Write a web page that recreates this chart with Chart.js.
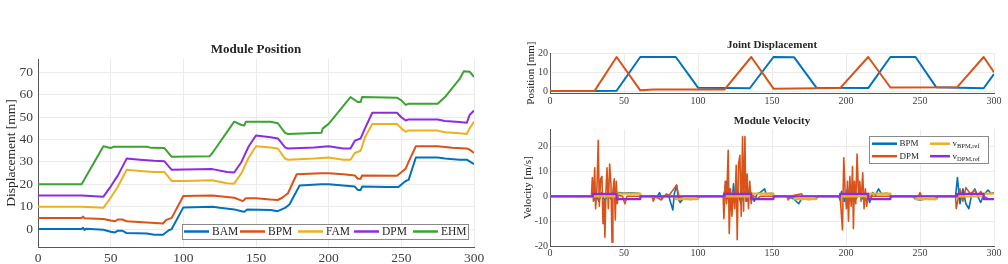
<!DOCTYPE html>
<html>
<head>
<meta charset="utf-8">
<script src="https://cdn.jsdelivr.net/npm/chart.js@4/dist/chart.umd.min.js"></script>
<style>
  body { margin: 0; background: #fff; width: 1008px; height: 264px; position: relative; overflow: hidden; }
  canvas { position: absolute; }
</style>
</head>
<body>
<canvas id="posChart" width="500" height="264" style="left:0;top:0"></canvas>
<canvas id="jointChart" width="508" height="112" style="left:500px;top:0"></canvas>
<canvas id="velChart" width="508" height="152" style="left:500px;top:112px"></canvas>
<script>
// ---- tick labels ----
var timeTicks = [0, 50, 100, 150, 200, 250, 300];
var posTicks = [0, 10, 20, 30, 40, 50, 60, 70];
var jointTicks = [0, 10, 20];
var velTicks = [-20, -10, 0, 10, 20];

// ---- Module Position (mm) ----
var bamT = [0, 30, 31, 32, 33, 45, 50, 53, 55, 58, 61, 75, 80, 86, 90, 92, 100, 120, 125, 135, 140, 142, 144, 160, 165, 170, 173, 180, 195, 200, 210, 218, 220, 222, 223, 240, 248, 253, 255, 260, 275, 280, 290, 295, 300];
var bamY = [0, 0, 0.6, -0.4, 0.2, -0.3, -1.2, -1.5, -0.7, -0.7, -1.8, -2, -2.5, -2.5, -0.5, 0, 9.7, 10, 9.5, 8.8, 8, 7.7, 8.8, 8.5, 8, 9.5, 11, 19.5, 20, 20, 19.5, 19, 17.5, 17.5, 19, 18.8, 18.8, 21.5, 22, 32, 32, 31.5, 31, 31, 29];

var bpmT = [0, 30, 31, 32, 45, 50, 53, 55, 58, 61, 75, 86, 88, 92, 100, 120, 135, 141, 143, 150, 160, 165, 168, 172, 178, 195, 200, 210, 218, 220, 222, 223, 247, 253, 255, 260, 275, 285, 295, 297, 300];
var bpmY = [5, 5, 5.6, 4.8, 4.5, 3.8, 3.5, 4.3, 4.3, 3.5, 3, 2.5, 4, 5, 14.8, 15, 14, 12.5, 13.8, 13.8, 13.2, 13, 14, 16, 24.5, 25, 25, 24.5, 24, 22.5, 22.5, 24, 23.8, 27, 30, 37, 37, 36.3, 36, 35.5, 34];

var famT = [0, 30, 45, 50, 55, 61, 70, 80, 87, 92, 100, 120, 130, 135, 140, 145, 150, 160, 165, 170, 172, 190, 200, 210, 215, 218, 222, 225, 230, 247, 250, 253, 255, 275, 280, 290, 295, 297, 300];
var famY = [10, 10, 9.5, 14, 19, 26.5, 26, 25.5, 25.5, 21.5, 21.5, 21.8, 20.5, 20.3, 25, 32, 37, 36.5, 36, 31.5, 31, 31.5, 32, 31, 31, 34, 35, 41, 47, 47, 45, 43.5, 44, 44, 43.3, 42.8, 42.5, 45, 48];

var dpmT = [0, 30, 45, 50, 55, 61, 70, 80, 87, 92, 120, 130, 135, 140, 145, 150, 160, 165, 170, 172, 190, 200, 210, 215, 218, 222, 225, 230, 247, 250, 253, 255, 275, 280, 290, 295, 297, 300];
var dpmY = [15, 15, 14.5, 19, 24, 31.5, 31, 30.5, 30.3, 26.5, 26.8, 25.5, 25.3, 30, 37, 41.8, 41, 40.5, 36.5, 36, 36.5, 37, 36, 36, 39.5, 40.5, 45, 52, 52, 50, 48.5, 49, 49, 48.3, 47.8, 47.5, 51, 53];

var ehmT = [0, 30, 45, 50, 52, 75, 78, 87, 92, 118, 120, 135, 140, 142, 143, 160, 165, 170, 172, 195, 196, 200, 215, 220, 222, 223, 247, 250, 253, 255, 275, 280, 290, 293, 297, 300];
var ehmY = [20, 20, 37, 36.2, 36.8, 36.8, 36.3, 36.2, 32.3, 32.5, 34, 48, 46.5, 46.3, 48, 48, 47.3, 43, 42.5, 43, 45, 47, 59, 56.8, 56.8, 59, 58.7, 57.5, 55.5, 56, 56, 59, 67, 70.5, 70.3, 68];

// ---- Joint Displacement (mm) ----
var jointBpmT = [0, 30, 45, 61, 85, 100, 118, 135, 151, 165, 180, 215, 230, 247, 261, 293, 300];
var jointBpmY = [0, 0.1, 0.2, 18, 18, 1.8, 1.7, 1.5, 18, 17.8, 1.8, 1.6, 18, 18, 2, 1.5, 9];
var jointDpmT = [0, 30, 45, 61, 70, 118, 136, 151, 196, 215, 230, 275, 293, 300];
var jointDpmY = [0, 0, 18, 0.4, 0.8, 0.9, 18, 1.3, 1.6, 18, 1.9, 2, 18, 10];

// ---- Module Velocity ----
var velBpmT = [0, 28, 29, 30, 31, 33, 35, 37, 39, 41, 43, 45, 46, 50, 55, 60, 61, 62, 70, 72, 74, 75.5, 77, 80, 81, 83, 84, 85.5, 87, 88, 90, 95, 100, 101, 117, 118, 119, 120, 121, 123, 124, 125, 127, 129, 131, 133, 135, 136, 138, 140, 142, 145, 146, 150, 151, 160, 161, 163, 165, 168, 170, 175, 180, 181, 195, 196, 197, 199, 201, 203, 205, 207, 209, 211, 213, 215, 216, 218, 220, 222, 224, 228, 230, 231, 245, 247, 250, 255, 261, 262, 274, 275.3, 277, 279, 281, 283, 285, 287, 289, 291, 293, 296, 298, 300];
var velBpmY = [0, 0, 2, -1.5, 1, -2, 1.5, -2, 1, -1, 1.5, 0.5, 1.5, 1.3, 1.4, 1.2, 0.5, 0, 0, -0.5, 1.5, -1, 0, 0.5, -1.5, -5.5, 1, 4.5, -1.5, -2.5, -1, -1.3, -1, 0, 0, 2, 6, -1, 3, -3, 5, -2, 2, -3, 2, -2, 1, 1.5, -2, 1, 1.5, 3, 1, 1.2, 0, 0, -1, -0.5, -1.2, -3, -1, -1.3, -1, 0, 0, -1.5, 2, -2, 3, -2, 2, -1, 2, -1, 1, 0.5, -2.5, 1.5, 0.5, 3, 1, 1.2, 0.5, 0, 0, -1.2, -1.5, -1, -1.3, 0, 0, 7.5, -3, 3, -3, -5, 1, 3, 0, -2.5, 0.5, 2.5, 1, 1.5];

var velDpmT = [0, 28, 28.6, 29.3, 30.2, 30.8, 31.7, 32.6, 33.3, 34.2, 35.1, 35.8, 36.5, 37.1, 37.8, 38.5, 39.4, 40.3, 41.2, 41.9, 42.5, 43.4, 44.1, 44.8, 45.5, 46.1, 49, 50.6, 52, 69, 69.8, 71, 75.2, 77, 78.8, 80, 85.5, 87.8, 89, 117, 117.5, 118.4, 119.3, 120.4, 121.1, 122, 122.9, 123.8, 124.9, 125.8, 126.5, 127.4, 128.3, 129.2, 130.1, 130.8, 131.7, 132.3, 133.2, 134.1, 135, 135.9, 136.8, 138, 140, 142, 160, 161, 162, 170, 171, 196, 196.5, 197.6, 198.5, 199.4, 200.3, 201, 201.7, 202.6, 203.5, 204.4, 205, 205.7, 206.6, 207.5, 208.4, 209.3, 210.2, 211.3, 212.2, 213.1, 214, 215, 249, 250, 251, 274, 274.5, 277, 279, 281, 284, 287, 289, 291, 293, 296, 300];
var velDpmY = [0, 0, 7.5, -2, 11.5, -5, 3, 22.5, -4, 7, 8, -11, -2, -16.5, 2, 11.5, -5, 13, 5, -18.5, 2, 7, -9.5, 6, -3, 0.5, 0, -3, 0, 0, -2, 0, -1.5, 0, 1, 0, 4.5, -2, 0, 0, -9, 6, -3, 18.5, -15, 3, -8, 2, -5, 12.5, -17.5, 13, 16.5, -8, 24, -6, 24, -2, 9, -5, 6, -3, 0.5, 0, -1, 0, 0, -1.5, 0, 1, 0, 0, -4, -13.5, 15.5, 2, -5, 6, -10, 8, -4, 12, -13, 6, -3, 17, 1, 6, -2, 9.5, -5, 3, -4, 0, 0, 1.5, 0, 0, -5, 3, -2, 3.5, 1, 2.5, 0, 2, 0, -1, -1];

var refBpmT = [0, 45, 45, 61, 61, 85, 85, 100, 100, 136, 136, 151, 151, 165, 165, 180, 180, 215, 215, 230, 230, 247, 247, 261, 261, 293, 293, 300];
var refBpmY = [0, 0, 1.1, 1.1, 0, 0, -1.1, -1.1, 0, 0, 1.1, 1.1, 0, 0, -1.1, -1.1, 0, 0, 1.1, 1.1, 0, 0, -1.1, -1.1, 0, 0, 1.1, 1.1];
var refDpmT = [0, 29, 29, 45, 45, 61, 61, 118, 118, 136, 136, 151, 151, 196, 196, 215, 215, 230, 230, 275, 275, 293, 293, 300];
var refDpmY = [0, 0, 1, 1, -1.1, -1.1, 0, 0, 1, 1, -1.1, -1.1, 0, 0, 1, 1, -1.1, -1.1, 0, 0, 1, 1, -1.1, -1.1];

var BLUE = '#0072BD', ORANGE = '#D95319', YELLOW = '#EDB120', PURPLE = '#8c2ce0', GREEN = '#3ca332';
var SERIF = "'Liberation Serif', 'Times New Roman', serif";

Chart.defaults.font.family = SERIF;
Chart.defaults.color = '#262626';

function pts(t, y) {
  return t.map(function (v, i) { return { x: v, y: y[i] }; });
}

// later series are drawn on top (like plotting in sequence)
function line(label, t, y, color, width, idx) {
  return {
    label: label,
    data: pts(t, y),
    borderColor: color,
    backgroundColor: color,
    borderWidth: width,
    pointRadius: 0,
    tension: 0,
    borderJoinStyle: 'round',
    order: -idx
  };
}

// rotated y axis title, drawn beside the plot area
var yTitle = {
  id: 'yTitle',
  afterDraw: function (chart, args, o) {
    var ctx = chart.ctx, a = chart.chartArea;
    ctx.save();
    ctx.translate(a.left + o.offset, (a.top + a.bottom) / 2);
    ctx.rotate(-Math.PI / 2);
    ctx.font = o.font;
    ctx.fillStyle = '#262626';
    ctx.textAlign = 'center';
    ctx.textBaseline = 'middle';
    ctx.fillText(o.text, 0, 0);
    ctx.restore();
  }
};

// boxed legend inside the plot area
var boxLegend = {
  id: 'boxLegend',
  afterDatasetsDraw: function (chart, args, o) {
    var ctx = chart.ctx, a = chart.chartArea;
    var x0 = a.right - o.right - o.width;
    var y0 = o.top != null ? a.top + o.top : a.bottom - o.bottom - o.height;
    ctx.save();
    ctx.fillStyle = '#fff';
    ctx.fillRect(x0, y0, o.width, o.height);
    ctx.strokeStyle = '#8a8a8a';
    ctx.lineWidth = 1;
    ctx.strokeRect(Math.round(x0) + 0.5, Math.round(y0) + 0.5, o.width, o.height);
    o.items.forEach(function (it) {
      var ds = chart.data.datasets[it.index];
      var x = x0 + it.dx, y = y0 + it.dy;
      ctx.strokeStyle = ds.borderColor;
      ctx.lineWidth = o.lineWidth;
      ctx.beginPath();
      ctx.moveTo(x, y);
      ctx.lineTo(x + it.len, y);
      ctx.stroke();
      ctx.fillStyle = '#262626';
      ctx.font = o.font;
      ctx.textAlign = 'left';
      ctx.textBaseline = 'middle';
      var tx = x + it.len + o.gap;
      ctx.fillText(it.text, tx, y);
      if (it.sub) {
        tx += ctx.measureText(it.text).width;
        ctx.font = o.subFont;
        ctx.fillText(it.sub, tx, y + 3);
      }
    });
    ctx.restore();
  }
};

function timeAxis(fontSize, pad, height) {
  return {
    type: 'linear', min: 0, max: 300,
    afterBuildTicks: function (axis) { axis.ticks = timeTicks.map(function (v) { return { value: v }; }); },
    afterFit: function (axis) { axis.height = height; },
    ticks: { font: { size: fontSize }, padding: pad, maxRotation: 0, autoSkip: false, color: '#404040' },
    grid: { color: '#ebebeb', drawTicks: false },
    border: { color: '#555', width: 1 }
  };
}

function valueAxis(min, max, tickList, fontSize, pad, width) {
  return {
    min: min, max: max,
    afterBuildTicks: function (axis) { axis.ticks = tickList.map(function (v) { return { value: v }; }); },
    afterFit: function (axis) { axis.width = width; },
    ticks: { font: { size: fontSize }, padding: pad, color: '#404040' },
    grid: { color: '#ebebeb', drawTicks: false },
    border: { color: '#555', width: 1 }
  };
}

function titleOpts(text, size, bottom) {
  return {
    display: true, text: text, fullSize: false, color: '#262626',
    font: { size: size, weight: 'bold', family: SERIF },
    padding: { top: 0, bottom: bottom }
  };
}

new Chart(document.getElementById('posChart'), {
  type: 'line',
  data: {
    datasets: [
      line('BAM', bamT, bamY, BLUE, 2, 0),
      line('BPM', bpmT, bpmY, ORANGE, 2, 1),
      line('FAM', famT, famY, YELLOW, 2, 2),
      line('DPM', dpmT, dpmY, PURPLE, 2, 3),
      line('EHM', ehmT, ehmY, GREEN, 2, 4)
    ]
  },
  plugins: [yTitle, boxLegend],
  options: {
    responsive: false, animation: false,
    layout: { padding: { top: 42, left: 0, right: 26, bottom: 0 } },
    scales: {
      x: timeAxis(13.5, 3, 17),
      y: valueAxis(-8, 76, posTicks, 13.5, 5, 38)
    },
    plugins: {
      legend: { display: false },
      tooltip: { enabled: false },
      title: titleOpts('Module Position', 13, 1.4),
      yTitle: { text: 'Displacement [mm]', offset: -27, font: '13.5px ' + SERIF },
      boxLegend: {
        right: 6, bottom: 8, width: 286, height: 15, lineWidth: 2.5, gap: 3,
        font: '11.5px ' + SERIF, subFont: '8px ' + SERIF,
        items: [
          { index: 0, text: 'BAM', dx: 2, dy: 7.5, len: 25 },
          { index: 1, text: 'BPM', dx: 58, dy: 7.5, len: 25 },
          { index: 2, text: 'FAM', dx: 116, dy: 7.5, len: 25 },
          { index: 3, text: 'DPM', dx: 172, dy: 7.5, len: 25 },
          { index: 4, text: 'EHM', dx: 231, dy: 7.5, len: 25 }
        ]
      }
    }
  }
});

new Chart(document.getElementById('jointChart'), {
  type: 'line',
  data: {
    datasets: [
      line('BPM', jointBpmT, jointBpmY, BLUE, 2, 0),
      line('DPM', jointDpmT, jointDpmY, ORANGE, 2, 1)
    ]
  },
  plugins: [yTitle],
  options: {
    responsive: false, animation: false,
    layout: { padding: { top: 39, left: 0, right: 14, bottom: 0 } },
    scales: {
      x: timeAxis(10, 2, 19),
      y: valueAxis(-1, 20, jointTicks, 10, 2, 50)
    },
    plugins: {
      legend: { display: false },
      tooltip: { enabled: false },
      title: titleOpts('Joint Displacement', 11, 1),
      yTitle: { text: 'Position [mm]', offset: -18.5, font: '11px ' + SERIF }
    }
  }
});

new Chart(document.getElementById('velChart'), {
  type: 'line',
  data: {
    datasets: [
      line('BPM', velBpmT, velBpmY, BLUE, 1.6, 0),
      line('DPM', velDpmT, velDpmY, ORANGE, 1.6, 1),
      line('vBPM,ref', refBpmT, refBpmY, YELLOW, 2.2, 2),
      line('vDPM,ref', refDpmT, refDpmY, PURPLE, 2.2, 3)
    ]
  },
  plugins: [yTitle, boxLegend],
  options: {
    responsive: false, animation: false,
    layout: { padding: { top: 3, left: 0, right: 14, bottom: 0 } },
    scales: {
      x: timeAxis(10, 1, 18),
      y: valueAxis(-20, 27, velTicks, 10, 2, 50)
    },
    plugins: {
      legend: { display: false },
      tooltip: { enabled: false },
      title: titleOpts('Module Velocity', 11, 1),
      yTitle: { text: 'Velocity [m/s]', offset: -21.5, font: '11px ' + SERIF },
      boxLegend: {
        right: 6, top: 7, width: 119, height: 27, lineWidth: 2.5, gap: 2.5,
        font: '9px ' + SERIF, subFont: '6.5px ' + SERIF,
        items: [
          { index: 0, text: 'BPM', dx: 3, dy: 7.5, len: 25 },
          { index: 1, text: 'DPM', dx: 3, dy: 20, len: 25 },
          { index: 2, text: 'v', sub: 'BPM,ref', dx: 61, dy: 7.5, len: 20 },
          { index: 3, text: 'v', sub: 'DPM,ref', dx: 61, dy: 20, len: 20 }
        ]
      }
    }
  }
});
</script>
</body>
</html>
